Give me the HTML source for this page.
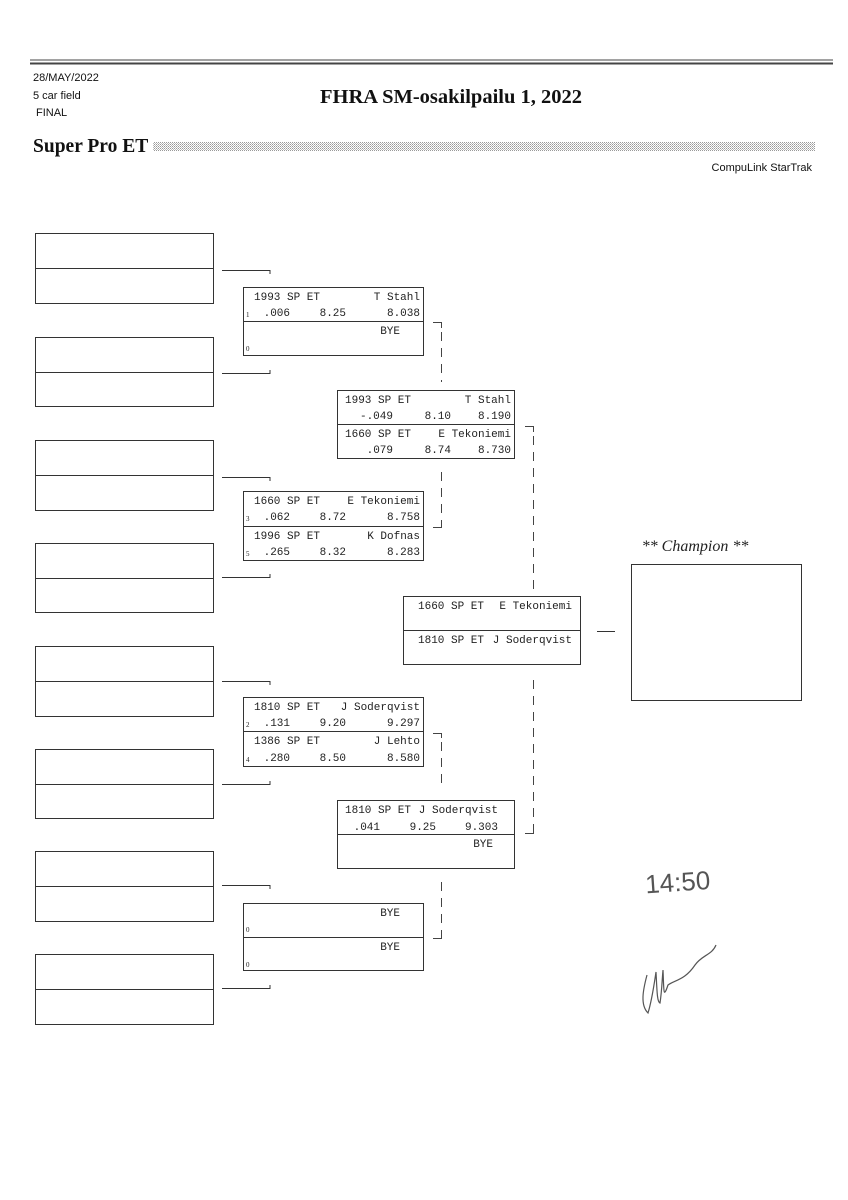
<!DOCTYPE html>
<html><head><meta charset="utf-8"><style>
html,body{margin:0;padding:0;background:#fff;}
svg{display:block}
.m{font-family:"Liberation Mono","DejaVu Sans Mono",monospace;font-size:11px;fill:#222}
.s{font-family:"Liberation Serif",serif;font-size:7px;fill:#222}
.h{font-family:"Liberation Sans",sans-serif;font-size:11px;fill:#111}
.t{font-family:"Liberation Serif",serif;font-weight:bold;font-size:19px;fill:#111}
</style></head><body>
<svg width="848" height="1200" viewBox="0 0 848 1200" xmlns="http://www.w3.org/2000/svg">
<defs><pattern id="dp" width="2" height="2" patternUnits="userSpaceOnUse"><rect width="1" height="1" fill="#999"/><rect x="1" y="1" width="1" height="1" fill="#bbb"/></pattern></defs>
<g stroke="#444" fill="none">
<line x1="30" y1="60" x2="833" y2="60" stroke-width="1"/>
<line x1="30" y1="63.5" x2="833" y2="63.5" stroke-width="2"/>
</g>
<text x="33" y="81" class="h">28/MAY/2022</text>
<text x="33" y="99" class="h">5 car field</text>
<text x="36" y="116" class="h">FINAL</text>
<text x="451" y="103" class="t" text-anchor="middle" style="font-size:20.5px">FHRA SM-osakilpailu 1, 2022</text>
<text x="33" y="152" class="t" style="font-size:19.5px">Super Pro ET</text>
<rect x="153" y="142" width="662" height="9" fill="url(#dp)"/>
<text x="812" y="171" class="h" text-anchor="end">CompuLink StarTrak</text>

<g stroke="#333" fill="none" stroke-width="1">
<rect x="35.5" y="233.5" width="178" height="70"/><line x1="35" y1="268.5" x2="213" y2="268.5"/>
<rect x="35.5" y="337.5" width="178" height="69"/><line x1="35" y1="372.5" x2="213" y2="372.5"/>
<rect x="35.5" y="440.5" width="178" height="70"/><line x1="35" y1="475.5" x2="213" y2="475.5"/>
<rect x="35.5" y="543.5" width="178" height="69"/><line x1="35" y1="578.5" x2="213" y2="578.5"/>
<rect x="35.5" y="646.5" width="178" height="70"/><line x1="35" y1="681.5" x2="213" y2="681.5"/>
<rect x="35.5" y="749.5" width="178" height="69"/><line x1="35" y1="784.5" x2="213" y2="784.5"/>
<rect x="35.5" y="851.5" width="178" height="70"/><line x1="35" y1="886.5" x2="213" y2="886.5"/>
<rect x="35.5" y="954.5" width="178" height="70"/><line x1="35" y1="989.5" x2="213" y2="989.5"/>
<path d="M222 270.5H270V274"/><path d="M222 373.5H270V370"/>
<path d="M222 477.5H270V481"/><path d="M222 577.5H270V574"/>
<path d="M222 681.5H270V685"/><path d="M222 784.5H270V781"/>
<path d="M222 885.5H270V889"/><path d="M222 988.5H270V985"/>
<rect x="243.5" y="287.5" width="180" height="68"/><line x1="243" y1="321.5" x2="423" y2="321.5"/>
<rect x="243.5" y="491.5" width="180" height="69"/><line x1="243" y1="526.5" x2="423" y2="526.5"/>
<rect x="243.5" y="697.5" width="180" height="69"/><line x1="243" y1="731.5" x2="423" y2="731.5"/>
<rect x="243.5" y="903.5" width="180" height="67"/><line x1="243" y1="937.5" x2="423" y2="937.5"/>
<rect x="337.5" y="390.5" width="177" height="68"/><line x1="337" y1="424.5" x2="514" y2="424.5"/>
<rect x="337.5" y="800.5" width="177" height="68"/><line x1="337" y1="834.5" x2="514" y2="834.5"/>
<rect x="403.5" y="596.5" width="177" height="68"/><line x1="403" y1="630.5" x2="580" y2="630.5"/>
<line x1="597" y1="631.5" x2="615" y2="631.5"/>
<rect x="631.5" y="564.5" width="170" height="136"/>
</g>
<g stroke="#444" fill="none" stroke-width="1" stroke-dasharray="9,7">
<path d="M433 322.5H441.5V328" stroke-dasharray="none"/><line x1="441.5" y1="332" x2="441.5" y2="382"/>
<line x1="441.5" y1="472" x2="441.5" y2="527"/><path d="M441.5 520V527.5H433" stroke-dasharray="none"/>
<path d="M525 426.5H533.5V432" stroke-dasharray="none"/><line x1="533.5" y1="436" x2="533.5" y2="592"/>
<line x1="533.5" y1="680" x2="533.5" y2="832"/><path d="M533.5 826V833.5H525" stroke-dasharray="none"/>
<path d="M433 733.5H441.5V738" stroke-dasharray="none"/><line x1="441.5" y1="742" x2="441.5" y2="790"/>
<line x1="441.5" y1="882" x2="441.5" y2="938"/><path d="M441.5 932V938.5H433" stroke-dasharray="none"/>
</g>

<text x="254" y="300" class="m">1993 SP ET</text><text x="420" y="300" class="m" text-anchor="end">T Stahl</text>
<text x="246" y="317" class="s">1</text><text x="290" y="316" class="m" text-anchor="end">.006</text><text x="346" y="316" class="m" text-anchor="end">8.25</text><text x="420" y="316" class="m" text-anchor="end">8.038</text>
<text x="400" y="334" class="m" text-anchor="end">BYE</text><text x="246" y="351" class="s">0</text>
<text x="254" y="504" class="m">1660 SP ET</text><text x="420" y="504" class="m" text-anchor="end">E Tekoniemi</text>
<text x="246" y="521" class="s">3</text><text x="290" y="520" class="m" text-anchor="end">.062</text><text x="346" y="520" class="m" text-anchor="end">8.72</text><text x="420" y="520" class="m" text-anchor="end">8.758</text>
<text x="254" y="539" class="m">1996 SP ET</text><text x="420" y="539" class="m" text-anchor="end">K Dofnas</text>
<text x="246" y="556" class="s">5</text><text x="290" y="555" class="m" text-anchor="end">.265</text><text x="346" y="555" class="m" text-anchor="end">8.32</text><text x="420" y="555" class="m" text-anchor="end">8.283</text>
<text x="254" y="710" class="m">1810 SP ET</text><text x="420" y="710" class="m" text-anchor="end">J Soderqvist</text>
<text x="246" y="727" class="s">2</text><text x="290" y="726" class="m" text-anchor="end">.131</text><text x="346" y="726" class="m" text-anchor="end">9.20</text><text x="420" y="726" class="m" text-anchor="end">9.297</text>
<text x="254" y="744" class="m">1386 SP ET</text><text x="420" y="744" class="m" text-anchor="end">J Lehto</text>
<text x="246" y="762" class="s">4</text><text x="290" y="761" class="m" text-anchor="end">.280</text><text x="346" y="761" class="m" text-anchor="end">8.50</text><text x="420" y="761" class="m" text-anchor="end">8.580</text>
<text x="400" y="916" class="m" text-anchor="end">BYE</text><text x="246" y="932" class="s">0</text>
<text x="400" y="950" class="m" text-anchor="end">BYE</text><text x="246" y="967" class="s">0</text>
<text x="345" y="403" class="m">1993 SP ET</text><text x="511" y="403" class="m" text-anchor="end">T Stahl</text>
<text x="393" y="419" class="m" text-anchor="end">-.049</text><text x="451" y="419" class="m" text-anchor="end">8.10</text><text x="511" y="419" class="m" text-anchor="end">8.190</text>
<text x="345" y="437" class="m">1660 SP ET</text><text x="511" y="437" class="m" text-anchor="end">E Tekoniemi</text>
<text x="393" y="453" class="m" text-anchor="end">.079</text><text x="451" y="453" class="m" text-anchor="end">8.74</text><text x="511" y="453" class="m" text-anchor="end">8.730</text>
<text x="345" y="813" class="m">1810 SP ET</text><text x="498" y="813" class="m" text-anchor="end">J Soderqvist</text>
<text x="380" y="830" class="m" text-anchor="end">.041</text><text x="436" y="830" class="m" text-anchor="end">9.25</text><text x="498" y="830" class="m" text-anchor="end">9.303</text>
<text x="493" y="847" class="m" text-anchor="end">BYE</text>
<text x="418" y="609" class="m">1660 SP ET</text><text x="572" y="609" class="m" text-anchor="end">E Tekoniemi</text>
<text x="418" y="643" class="m">1810 SP ET</text><text x="572" y="643" class="m" text-anchor="end">J Soderqvist</text>
<text x="695" y="551" text-anchor="middle" style="font-family:'Liberation Serif',serif;font-style:italic;font-size:16px;fill:#222">** Champion **</text>
<text x="645" y="891" style="font-family:'Liberation Sans',sans-serif;font-size:26px;fill:#555;font-weight:300" transform="rotate(-4 680 880)">14:50</text>
<path d="M647 975 C643 990,640 1005,648 1013 C652 1000,654 985,656 972 C657 990,657 1002,660 1003 C662 990,662 980,663 970 C664 990,663 1000,668 985 C675 980,685 980,695 965 C702 955,712 955,716 945" stroke="#555" stroke-width="1.2" fill="none"/>
</svg>
</body></html>
